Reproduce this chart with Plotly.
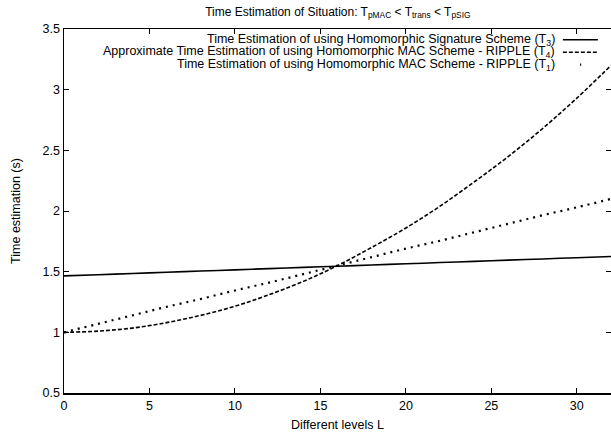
import plotly.graph_objects as go

levels = [0, 2, 4, 6, 8, 10, 12, 14, 16, 18, 20, 22, 24, 26, 28, 30, 32]
t3_signature = [1.465, 1.475, 1.485, 1.495, 1.505, 1.515, 1.525, 1.535, 1.545,
                1.555, 1.565, 1.575, 1.585, 1.595, 1.605, 1.615, 1.625]
t4_mac_approx = [1.00, 1.01, 1.035, 1.08, 1.14, 1.215, 1.31, 1.42, 1.55,
                 1.70, 1.86, 2.04, 2.24, 2.45, 2.68, 2.93, 3.20]
t1_mac = [1.00, 1.07, 1.14, 1.21, 1.275, 1.345, 1.41, 1.48, 1.55,
          1.62, 1.69, 1.755, 1.825, 1.895, 1.965, 2.03, 2.10]

legend_labels = [
    "Time Estimation of using Homomorphic Signature Scheme (T<sub>3</sub>)",
    "Approximate Time Estimation of using Homomorphic MAC Scheme - RIPPLE (T<sub>4</sub>)",
    "Time Estimation of using Homomorphic MAC Scheme - RIPPLE (T<sub>1</sub>)",
]
dashes = ["solid", "4px,2px", "2px,5px"]
widths = [1.6, 1.6, 2.2]
series = [t3_signature, t4_mac_approx, t1_mac]

FONT = "Liberation Sans, Arial, sans-serif"
FS = 12.5

fig = go.Figure()
for vals, d, w in zip(series, dashes, widths):
    fig.add_trace(go.Scatter(x=levels, y=vals, mode="lines",
                             line=dict(color="black", width=w, dash=d, shape="spline"),
                             showlegend=False, hoverinfo="skip"))

# Custom gnuplot-like legend: right-aligned text with sample on the right
rows_y = [0.9706, 0.936, 0.902]
for lab, yy, d, w in zip(legend_labels, rows_y, dashes, widths):
    fig.add_annotation(x=0.901, y=yy, xref="paper", yref="paper", text=lab,
                       showarrow=False, xanchor="right", yanchor="middle",
                       font=dict(family=FONT, size=FS, color="black"))
    if d == "2px,5px":
        fig.add_shape(type="line", xref="paper", yref="paper",
                      x0=0.9435, x1=0.9455, y0=yy, y1=yy,
                      line=dict(color="black", width=w))
    else:
        fig.add_shape(type="line", xref="paper", yref="paper",
                      x0=0.912, x1=0.976, y0=yy, y1=yy,
                      line=dict(color="black", width=w, dash=d))

axis_common = dict(showgrid=False, zeroline=False, showline=True, linecolor="black",
                   linewidth=1.5, mirror="allticks", ticks="inside", ticklen=5,
                   tickcolor="black", tickwidth=1, automargin=False,
                   tickfont=dict(family=FONT, size=FS, color="black"))

fig.update_layout(
    width=611, height=436,
    paper_bgcolor="white", plot_bgcolor="white",
    margin=dict(l=64, r=0, t=29, b=43),
    title=dict(text="Time Estimation of Situation: T<sub>pMAC</sub> &lt; T<sub>trans</sub> &lt; T<sub>pSIG</sub>",
               x=0.553, xanchor="center", y=0.973, yanchor="middle",
               font=dict(family=FONT, size=12, color="black")),
    xaxis=dict(range=[0, 32], tickvals=[0, 5, 10, 15, 20, 25, 30],
               title=dict(text="Different levels L", standoff=8,
                          font=dict(family=FONT, size=FS, color="black")),
               **axis_common),
    yaxis=dict(range=[0.5, 3.5], tickvals=[0.5, 1, 1.5, 2, 2.5, 3, 3.5],
               ticktext=["0.5", "1", "1.5", "2", "2.5", "3", "3.5"],
               title=dict(text="Time estimation (s)", standoff=19,
                          font=dict(family=FONT, size=FS, color="black")),
               **axis_common),
)

fig.write_html("out.html", config={"displayModeBar": False, "staticPlot": True},
               post_script="document.body.style.margin='0';document.body.style.overflow='hidden';")
